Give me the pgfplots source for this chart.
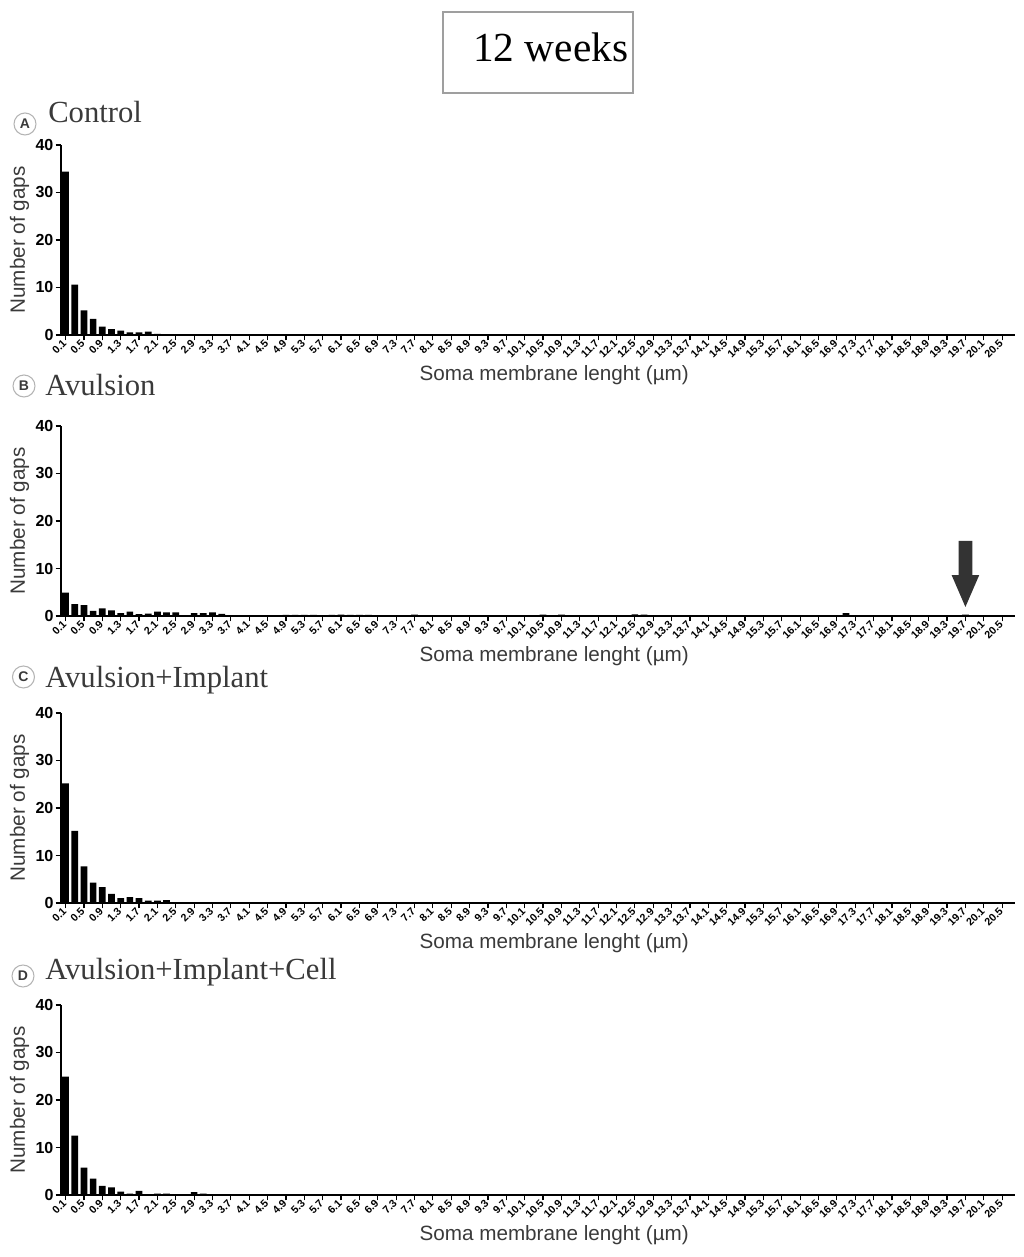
\documentclass[border=0pt]{standalone}
\usepackage{fontspec}
\setmainfont{Liberation Sans}
\newfontfamily\seriffont{Liberation Serif}
\usepackage{pgfplots}
\pgfplotsset{compat=1.18}
\definecolor{labelgray}{HTML}{3A3A3A}
\definecolor{circgray}{HTML}{B4B4B4}
\definecolor{arrowgray}{HTML}{333333}

% bins of 0.2 um, only non-empty ones listed
\pgfplotstableread{
x y
0.1 34.4
0.3 10.6
0.5 5.2
0.7 3.4
0.9 1.75
1.1 1.25
1.3 0.9
1.5 0.55
1.7 0.55
1.9 0.7
2.1 0.25
2.3 0.05
2.7 0.1
4.3 0.1
}\control
\pgfplotstableread{
x y
0.1 4.9
0.3 2.5
0.5 2.3
0.7 1.1
0.9 1.6
1.1 1.2
1.3 0.6
1.5 0.9
1.7 0.4
1.9 0.5
2.1 0.9
2.3 0.75
2.5 0.75
2.7 0.1
2.9 0.6
3.1 0.6
3.3 0.75
3.5 0.45
3.7 0.2
3.9 0.2
4.1 0.2
4.3 0.2
4.5 0.1
4.7 0.1
4.9 0.25
5.1 0.25
5.3 0.25
5.5 0.25
5.9 0.25
6.1 0.3
6.3 0.25
6.5 0.25
6.7 0.25
6.9 0.2
7.7 0.3
8.3 0.1
8.7 0.15
8.9 0.15
10.1 0.1
10.5 0.3
10.9 0.3
12.5 0.35
12.7 0.3
15.3 0.15
17.1 0.6
19.7 0.3
}\avulsion
\pgfplotstableread{
x y
0.1 25.2
0.3 15.2
0.5 7.7
0.7 4.3
0.9 3.35
1.1 1.9
1.3 1.0
1.5 1.25
1.7 1.05
1.9 0.5
2.1 0.5
2.3 0.6
2.5 0.07
2.7 0.2
3.7 0.1
4.5 0.1
}\implant
\pgfplotstableread{
x y
0.1 24.9
0.3 12.5
0.5 5.75
0.7 3.45
0.9 1.9
1.1 1.6
1.3 0.7
1.5 0.3
1.7 0.85
1.9 0.15
2.1 0.3
2.3 0.3
2.7 0.15
2.9 0.6
3.1 0.3
3.3 0.1
4.9 0.1
5.1 0.1
5.3 0.1
6.9 0.1
7.7 0.1
}\cell

\pgfplotsset{
  panel/.style={
    scale only axis, width=715.5pt, height=142.5pt,
    anchor=south west,
    xmin=0, xmax=20.78, ymin=0, ymax=40,
    axis x line*=bottom, axis y line*=left,
    axis line style={-, line width=1.1pt},
    ytick={0,10,20,30,40},
    xtick={0.1,0.5,0.9,1.3,1.7,2.1,2.5,2.9,3.3,3.7,4.1,4.5,4.9,5.3,5.7,6.1,6.5,6.9,7.3,7.7,8.1,8.5,8.9,9.3,9.7,10.1,10.5,10.9,11.3,11.7,12.1,12.5,12.9,13.3,13.7,14.1,14.5,14.9,15.3,15.7,16.1,16.5,16.9,17.3,17.7,18.1,18.5,18.9,19.3,19.7,20.1,20.5},
    xticklabels={0.1,0.5,0.9,1.3,1.7,2.1,2.5,2.9,3.3,3.7,4.1,4.5,4.9,5.3,5.7,6.1,6.5,6.9,7.3,7.7,8.1,8.5,8.9,9.3,9.7,10.1,10.5,10.9,11.3,11.7,12.1,12.5,12.9,13.3,13.7,14.1,14.5,14.9,15.3,15.7,16.1,16.5,16.9,17.3,17.7,18.1,18.5,18.9,19.3,19.7,20.1,20.5},
    tick align=outside,
    major tick length=4pt,
    tick style={line width=0.9pt, black},
    /pgf/number format/assume math mode=true,
    yticklabel style={font=\fontsize{12}{14}\selectfont\bfseries, inner sep=1.5pt},
    xticklabel style={font=\fontsize{8}{9}\selectfont\bfseries, rotate=45, anchor=east, inner sep=1pt},
    ylabel={Number of gaps},
    xlabel={Soma membrane lenght (µm)},
    label style={font=\fontsize{15.5}{18}\selectfont, text=labelgray},
    ylabel style={at={(axis description cs:-0.0435,0.5)}, anchor=center},
    xlabel style={at={(axis description cs:0.517,-0.21)}, anchor=center},
    ybar, bar width=0.146,
    clip=false,
  },
  hbar/.style={fill=black, draw=none},
}

\begin{document}
\begin{tikzpicture}
\path[use as bounding box] (0,0) rectangle (768pt,942.75pt);

% heading box
\draw[gray!75, line width=0.8pt] (332.25pt,873pt) rectangle (474.75pt,933.75pt);
\node[anchor=base west, inner sep=0pt, font=\seriffont\fontsize{31}{36}\selectfont] at (354.75pt,896.25pt) {12 weeks};

% panel titles
\tikzset{pletter/.style={circle, draw=circgray, line width=0.8pt, minimum size=16.5pt, inner sep=0pt, fill=white, font=\fontsize{10.5}{11}\selectfont\bfseries, text=labelgray}}
\tikzset{ptitle/.style={anchor=base west, inner sep=0pt, font=\seriffont\fontsize{23}{27}\selectfont, text=labelgray}}
\node[pletter] at (18.75pt,849.75pt) {A};
\node[ptitle] at (36pt,850.5pt) {Control};
\node[pletter] at (18pt,653.25pt) {B};
\node[ptitle] at (33.75pt,645.75pt) {Avulsion};
\node[pletter] at (17.6pt,435pt) {C};
\node[ptitle] at (33.75pt,426.75pt) {Avulsion+Implant};
\node[pletter] at (17.25pt,210.75pt) {D};
\node[ptitle] at (33.75pt,207.75pt) {Avulsion+Implant+Cell};

\begin{axis}[panel, at={(45.75pt,691.5pt)}]
\addplot[hbar] table[x=x, y=y] {\control};
\end{axis}

\begin{axis}[panel, at={(45.75pt,480.75pt)}]
\addplot[hbar] table[x=x, y=y] {\avulsion};
\fill[arrowgray] (axis cs:19.55,15.8) -- (axis cs:19.85,15.8) -- (axis cs:19.85,8.6) -- (axis cs:20.0,8.6)
  -- (axis cs:19.7,1.9) -- (axis cs:19.4,8.6) -- (axis cs:19.55,8.6) -- cycle;
\end{axis}

\begin{axis}[panel, at={(45.75pt,265.5pt)}]
\addplot[hbar] table[x=x, y=y] {\implant};
\end{axis}

\begin{axis}[panel, at={(45.75pt,46.5pt)}]
\addplot[hbar] table[x=x, y=y] {\cell};
\end{axis}
\end{tikzpicture}
\end{document}
